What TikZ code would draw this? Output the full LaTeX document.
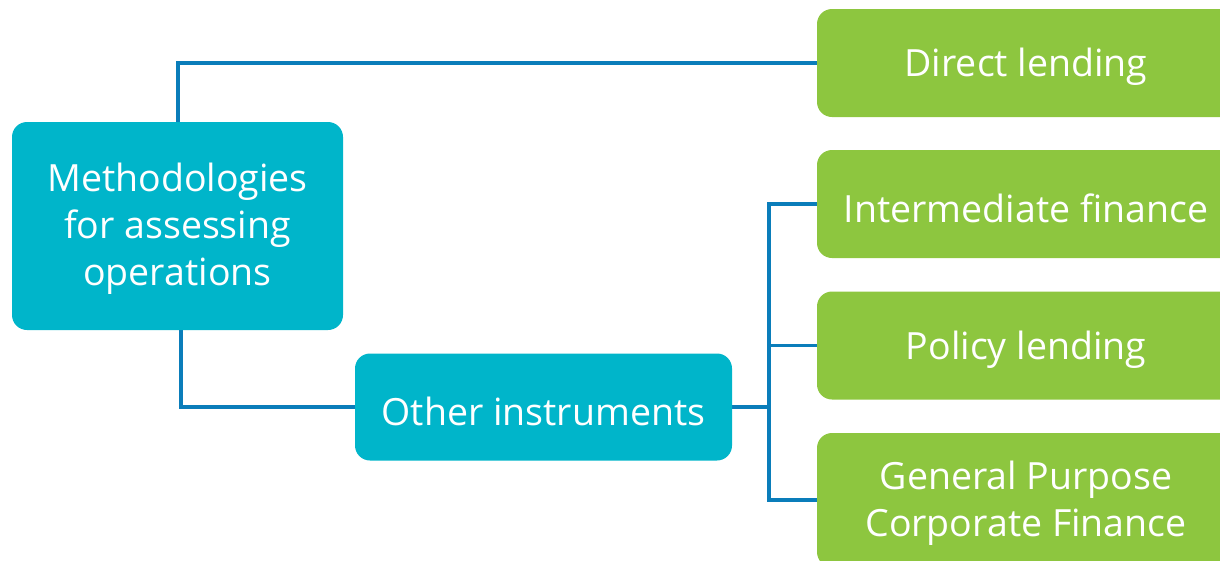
\documentclass[tikz,border=0pt]{standalone}
\usepackage{fontspec}
\setmainfont{Open Sans}
\usetikzlibrary{backgrounds}
\definecolor{teal}{HTML}{00B5CA}
\definecolor{lgreen}{HTML}{8DC63F}
\definecolor{lineblue}{HTML}{0A7DBA}
\begin{document}
\begin{tikzpicture}[x=1pt,y=-1pt,
  box/.style={rounded corners=15pt,inner sep=0pt},
  txt/.style={text=white,align=center,font=\fontsize{37.5}{47}\selectfont},
  tbox/.style={box,fill=teal},
  gbox/.style={box,fill=lgreen,minimum width=418pt},
  conn/.style={draw=lineblue,line width=3.8pt}]
\useasboundingbox (0,0) rectangle (1220,560);
\clip (0,0) rectangle (1220,560);
\node[tbox,minimum width=331pt,minimum height=208pt,
  label={[txt,yshift=-3pt]center:Methodologies\\for assessing\\operations}] (meth) at (177.5,226) {};
\node[tbox,minimum width=377pt,minimum height=107pt,
  label={[txt,yshift=-4pt]center:Other instruments}] (other) at (543.5,407) {};
\node[gbox,minimum height=108pt,
  label={[txt,yshift=-4pt]center:Direct lending}] (direct) at (1026,63) {};
\node[gbox,minimum height=108pt,
  label={[txt,yshift=-4pt]center:Intermediate finance}] (inter) at (1026,204) {};
\node[gbox,minimum height=108pt,
  label={[txt,yshift=-4pt]center:Policy lending}] (policy) at (1026,345.5) {};
\node[gbox,minimum height=134pt,
  label={[txt,yshift=-3pt]center:General Purpose\\Corporate Finance}] (gpcf) at (1026,500) {};
\coordinate (fork) at (769,407);
\coordinate (methtop) at (178,122);
\coordinate (methbot) at (181,330);
\begin{scope}[on background layer]
\path[conn] (methtop) |- (direct.west);
\path[conn] (methbot) |- (other.west);
\path[conn] (other.east) -- (fork);
\path[conn] (fork) |- (inter.west);
\path[conn] (fork) |- (policy.west);
\path[conn] (fork) |- (gpcf.west);
\end{scope}
\end{tikzpicture}
\end{document}
